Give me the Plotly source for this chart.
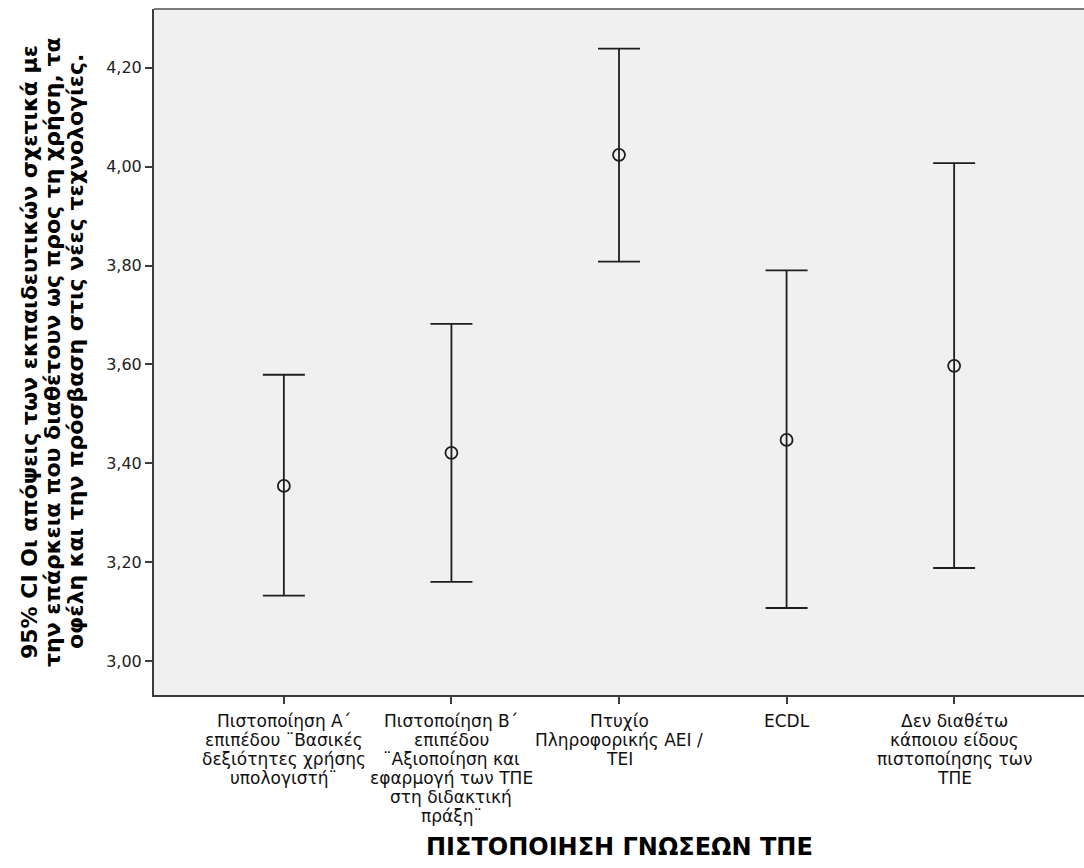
import plotly.graph_objects as go

# Groups: ICT certification level (label lines for each category)
categories = [
    ["Πιστοποίηση Α΄", "επιπέδου ¨Βασικές", "δεξιότητες χρήσης", "υπολογιστή¨"],
    ["Πιστοποίηση Β΄", "επιπέδου", "¨Αξιοποίηση και", "εφαρμογή των ΤΠΕ", "στη διδακτική", "πράξη¨"],
    ["Πτυχίο", "Πληροφορικής ΑΕΙ /", "ΤΕΙ"],
    ["ECDL"],
    ["Δεν διαθέτω", "κάποιου είδους", "πιστοποίησης των", "ΤΠΕ"],
]

# Group means and 95% confidence interval bounds
means = [3.354, 3.421, 4.024, 3.447, 3.597]
ci_upper = [3.579, 3.682, 4.239, 3.790, 4.007]
ci_lower = [3.132, 3.160, 3.808, 3.107, 3.188]

y_ticks = [3.0, 3.2, 3.4, 3.6, 3.8, 4.0, 4.2]

y_title_lines = [
    "95% CI Οι απόψεις των εκπαιδευτικών σχετικά με",
    "την επάρκεια που διαθέτουν ως προς τη χρήση, τα",
    "οφέλη και την πρόσβαση στις νέες τεχνολογίες.",
]
x_title = "ΠΙΣΤΟΠΟΙΗΣΗ ΓΝΩΣΕΩΝ ΤΠΕ"

FONT = "DejaVu Sans, Verdana, sans-serif"
INK = "#1e1e1e"

xs = list(range(len(categories)))
err_plus = [u - m for u, m in zip(ci_upper, means)]
err_minus = [m - l for m, l in zip(means, ci_lower)]

fig = go.Figure()
fig.add_trace(go.Scatter(
    x=xs, y=means, mode="markers",
    marker=dict(symbol="circle-open", size=12, color=INK, line=dict(width=1.8, color=INK)),
    error_y=dict(type="data", symmetric=False, array=err_plus, arrayminus=err_minus,
                 color=INK, thickness=1.8, width=21),
    showlegend=False, hoverinfo="skip",
))

# Multi-line category labels under each tick, with tight line spacing
line_h = 19
for i, lines in enumerate(categories):
    for k, txt in enumerate(lines):
        fig.add_annotation(
            x=i, xref="x", y=0, yref="paper", yanchor="top", xanchor="center",
            yshift=-14 - k * line_h, text=txt, showarrow=False,
            font=dict(family=FONT, size=17, color="#111"),
        )

# Rotated y-axis title, one annotation per line
for k, txt in enumerate(y_title_lines):
    fig.add_annotation(
        x=0, xref="paper", y=0.5, yref="paper", xanchor="center", yanchor="middle",
        xshift=-125 + 23 * k, text=txt, textangle=-90, showarrow=False,
        font=dict(family=FONT, size=22, color="#000", weight="bold"),
    )

# x-axis title
fig.add_annotation(
    x=0.5, xref="paper", y=0, yref="paper", xanchor="center", yanchor="middle",
    yshift=-152, text=x_title, showarrow=False,
    font=dict(family=FONT, size=24, color="#000", weight="bold"),
)

# Frame line along the top of the plot area
fig.add_shape(type="line", xref="paper", yref="paper", x0=0, x1=1, y0=1, y1=1,
              line=dict(color="#7a7a7a", width=2))

fig.update_layout(
    width=1084, height=868,
    margin=dict(l=154, r=0, t=9, b=173),
    paper_bgcolor="white", plot_bgcolor="#f0f0f0",
    separators=", ",
    font=dict(family=FONT, color="#222"),
    xaxis=dict(
        range=[-0.775, 4.775], tickvals=xs, ticktext=[""] * len(xs),
        showgrid=False, zeroline=False, showline=True, linecolor="#3c3c3c", linewidth=2,
        ticks="outside", ticklen=7, tickwidth=2, tickcolor="#3c3c3c",
    ),
    yaxis=dict(
        range=[2.931, 4.319], tickvals=y_ticks, tickformat=".2f",
        showgrid=False, zeroline=False, showline=True, linecolor="#3c3c3c", linewidth=2,
        ticks="outside", ticklen=7, tickwidth=2, tickcolor="#3c3c3c",
        tickfont=dict(family=FONT, size=16, color="#222"),
    ),
)

fig.write_html("out.html")
